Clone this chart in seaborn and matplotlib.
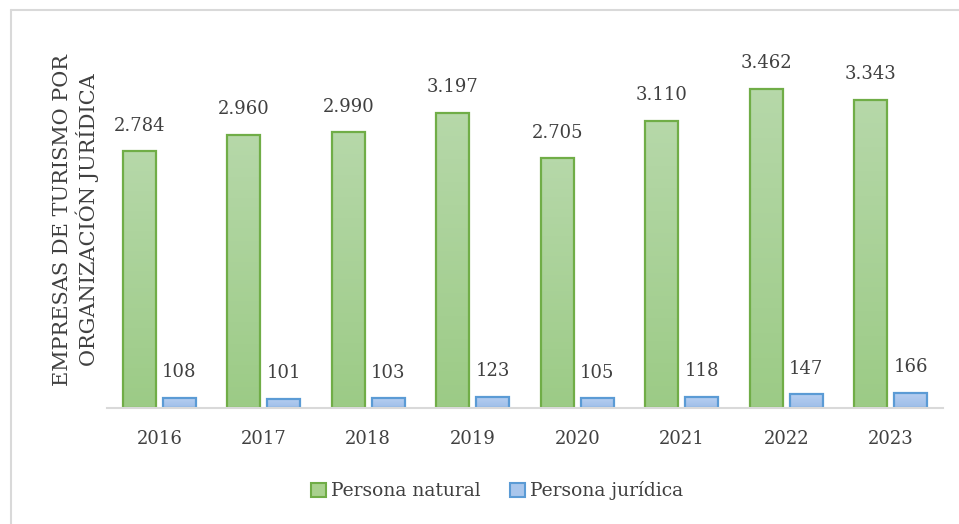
import numpy as np
import pandas as pd
import matplotlib
matplotlib.use("Agg")
import matplotlib.pyplot as plt
import seaborn as sns
from matplotlib.patches import Patch
from matplotlib.lines import Line2D
from matplotlib.colors import LinearSegmentedColormap

years = ["2016", "2017", "2018", "2019", "2020", "2021", "2022", "2023"]
natural = [2784, 2960, 2990, 3197, 2705, 3110, 3462, 3343]
juridica = [108, 101, 103, 123, 105, 118, 147, 166]
series_names = ["Persona natural", "Persona jurídica"]
ylabel = "EMPRESAS DE TURISMO POR\nORGANIZACIÓN JURÍDICA"

df = pd.DataFrame({
    "year": years * 2,
    "value": natural + juridica,
    "tipo": [series_names[0]] * len(years) + [series_names[1]] * len(years),
})

sns.set_theme(style="white")
plt.rcParams["font.family"] = ["DejaVu Serif"]
text_color = "#404040"

edge_cols = {series_names[0]: "#70ad47", series_names[1]: "#5b9bd5"}
top_cols = {series_names[0]: "#b6d8a9", series_names[1]: "#b7cff1"}
bot_cols = {series_names[0]: "#9ccb86", series_names[1]: "#9dbde8"}
mid_cols = {series_names[0]: "#a9d18e", series_names[1]: "#a9c6ec"}

fig = plt.figure(figsize=(9.59, 5.24), dpi=100)
ax = fig.add_axes([107 / 959, 1 - 408 / 524, 836 / 959, 369 / 524])

sns.barplot(data=df, x="year", y="value", hue="tipo", hue_order=series_names,
            palette=mid_cols, width=0.76, gap=0.17, ax=ax, legend=False,
            edgecolor="none", linewidth=0, errorbar=None)

# gradient fill + edge per bar
for container, name in zip(ax.containers, series_names):
    cmap = LinearSegmentedColormap.from_list(name, [bot_cols[name], top_cols[name]])
    grad = np.linspace(0, 1, 64).reshape(-1, 1)
    for bar in container:
        x0, w, h = bar.get_x(), bar.get_width(), bar.get_height()
        ax.imshow(grad, extent=[x0, x0 + w, 0, h], origin="lower", cmap=cmap,
                  aspect="auto", zorder=2)
        bar.set_facecolor("none")
        bar.set_edgecolor(edge_cols[name])
        bar.set_linewidth(1.6)
        bar.set_zorder(3)
    ax.bar_label(container, labels=[f"{int(v):,}".replace(",", ".") for v in container.datavalues],
                 padding=12, fontsize=13, color=text_color)

ax.set_ylim(0, 4000)
ax.set_xlim(-0.5, 7.5)

ax.set_xlabel("")
ax.set_ylabel("")
ax.set_yticks([])
ax.tick_params(axis="x", length=0, pad=16, labelsize=13, labelcolor=text_color)
for s in ["left", "right", "top"]:
    ax.spines[s].set_visible(False)
ax.spines["bottom"].set_color("#d9d9d9")
ax.spines["bottom"].set_linewidth(1.5)
ax.spines["bottom"].set_zorder(4)

fig.text(76 / 959, 1 - 220 / 524, ylabel, rotation=90, ha="center", va="center",
         multialignment="center", fontsize=15, color=text_color, linespacing=1.2)

handles = [Patch(facecolor=mid_cols[n], edgecolor=edge_cols[n], linewidth=1.5, label=n)
           for n in series_names]
fig.legend(handles=handles, loc="center", bbox_to_anchor=(497 / 959, 1 - 491 / 524),
           ncol=2, frameon=False, fontsize=13.5, handlelength=0.8, handleheight=0.8,
           handletextpad=0.25, columnspacing=1.6, labelcolor=text_color)

# figure border (top and left visible)
fig.add_artist(Line2D([11 / 959, 11 / 959], [0, 1 - 10 / 524], transform=fig.transFigure,
                      color="#d9d9d9", linewidth=1.5))
fig.add_artist(Line2D([11 / 959, 1], [1 - 10 / 524, 1 - 10 / 524], transform=fig.transFigure,
                      color="#d9d9d9", linewidth=1.5))

fig.savefig("out.png", dpi=100, facecolor="white")
